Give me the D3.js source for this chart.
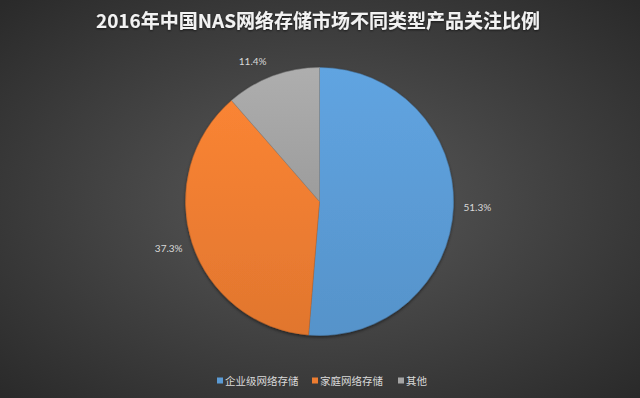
<!DOCTYPE html>
<html><head><meta charset="utf-8">
<script src="https://cdn.jsdelivr.net/npm/d3@7"></script>
<style>html,body{margin:0;padding:0;background:#333;}svg{display:block;}</style>
</head><body>
<script>
const title = "2016年中国NAS网络存储市场不同类型产品关注比例";
const categories = ["企业级网络存储", "家庭网络存储", "其他"];
const values = [51.3, 37.3, 11.4];
const colors = ["#5b9bd5", "#ed7d31", "#a5a5a5"];

const W = 640, H = 398;
const cx = 319.5, cy = 201.5, R = 134;
const svg = d3.select("body").append("svg").attr("width", W).attr("height", H);
const defs = svg.append("defs");

const bg = defs.append("radialGradient").attr("id","bg").attr("cx","50%").attr("cy","50%").attr("r","70%");
bg.append("stop").attr("offset","0%").attr("stop-color","#5a5a5a");
bg.append("stop").attr("offset","100%").attr("stop-color","#2a2a2a");
svg.append("rect").attr("width",W).attr("height",H).attr("fill","url(#bg)");

colors.forEach((c,i)=>{
  const g = defs.append("linearGradient").attr("id","g"+i).attr("x1",0).attr("y1",0).attr("x2",0).attr("y2",1);
  g.append("stop").attr("offset","0%").attr("stop-color", d3.color(c).brighter(0.15));
  g.append("stop").attr("offset","100%").attr("stop-color", d3.color(c).darker(0.15));
});
const sh = defs.append("filter").attr("id","sh").attr("x","-10%").attr("y","-10%").attr("width","120%").attr("height","120%");
sh.append("feDropShadow").attr("dx",0).attr("dy",1.5).attr("stdDeviation",1.5).attr("flood-color","#000").attr("flood-opacity",0.5);
const tsh = defs.append("filter").attr("id","tsh").attr("x","-5%").attr("y","-30%").attr("width","110%").attr("height","160%");
tsh.append("feDropShadow").attr("dx",0).attr("dy",1).attr("stdDeviation",1).attr("flood-color","#000").attr("flood-opacity",0.6);

svg.append("text").attr("x", 318).attr("y", 28).attr("text-anchor","middle")
  .attr("font-family","'Noto Sans CJK SC', sans-serif").attr("font-weight","bold")
  .attr("font-size",19).attr("fill","#f2f2f2").attr("filter","url(#tsh)").text(title);

const pie = d3.pie().sort(null).value(d=>d)(values);
const arc = d3.arc().innerRadius(0).outerRadius(R);
const g = svg.append("g").attr("transform",`translate(${cx},${cy})`);
g.append("g").attr("filter","url(#sh)").selectAll("path").data(pie).join("path")
  .attr("d", arc).attr("fill",(d,i)=>`url(#g${i})`)
  .attr("stroke",(d,i)=>d3.color(colors[i]).darker(0.6)).attr("stroke-width",0.5);

// labels outside end
const lw = 26, lh = 10, gap = 11;
g.selectAll("text.lbl").data(pie).join("text").attr("class","lbl")
  .each(function(d){
    const a = (d.startAngle + d.endAngle)/2;
    const dx = Math.sin(a), dy = -Math.cos(a);
    const px = (R+gap)*dx + Math.sign(dx)*lw/2 - (dx<0 && dy<-0.5 ? 3 : 0);
    const py = (R+gap)*dy + dy*lh/2;
    d3.select(this).attr("x",px).attr("y",py+3.5);
  })
  .attr("text-anchor","middle").attr("font-family","Lato, 'Open Sans', sans-serif")
  .attr("font-size",10).attr("fill","#d9d9d9")
  .text(d=>d.data.toFixed(1)+"%");

// legend
const legendX = [217, 312, 398];
const lg = svg.append("g");
categories.forEach((c,i)=>{
  lg.append("rect").attr("x",legendX[i]).attr("y",377.5).attr("width",6).attr("height",6).attr("fill",colors[i]);
  lg.append("text").attr("x",legendX[i]+8).attr("y",384.5).attr("font-family","'Noto Sans CJK SC', sans-serif")
    .attr("font-size",10.5).attr("fill","#d9d9d9").text(c);
});
</script>
</body></html>
